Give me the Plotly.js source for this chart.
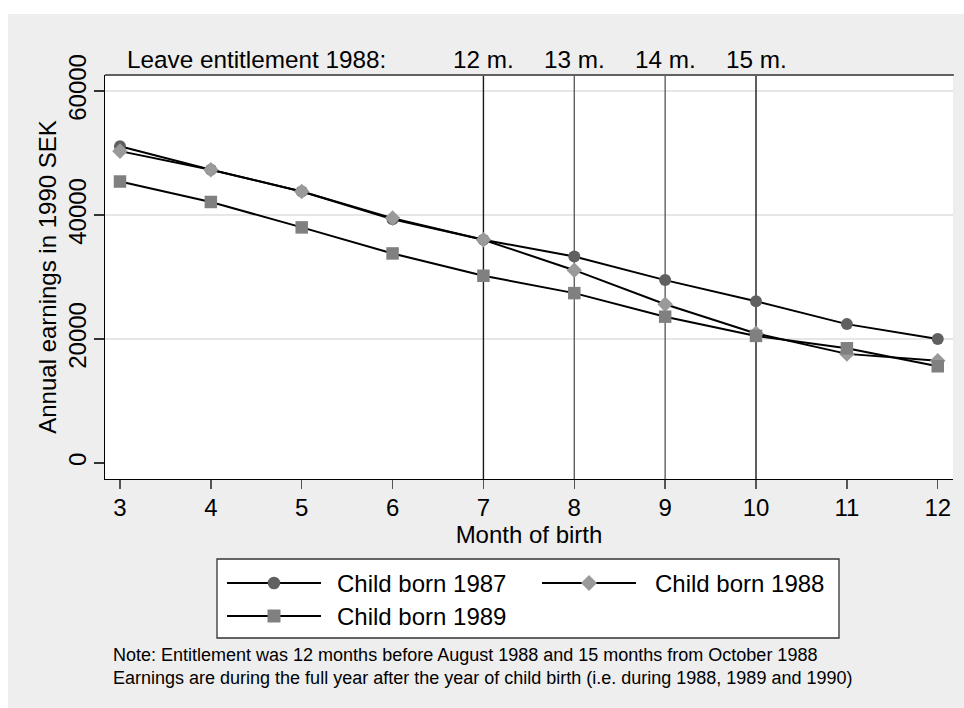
<!DOCTYPE html>
<html>
<head>
<meta charset="utf-8">
<script src="https://cdn.plot.ly/plotly-3.0.1.min.js"></script>
<style>
  html, body { margin: 0; padding: 0; background: #ffffff; }
  #chart { position: absolute; left: 8px; top: 14px; width: 956px; height: 694px; }
</style>
</head>
<body>
<div id="chart"></div>
<script>
// ---- data ----
const months = [3, 4, 5, 6, 7, 8, 9, 10, 11, 12];
const born1987 = [51100, 47300, 43800, 39300, 36000, 33300, 29500, 26100, 22400, 20000];
const born1988 = [50300, 47300, 43800, 39500, 36000, 31100, 25600, 20900, 17600, 16500];
const born1989 = [45400, 42100, 38000, 33800, 30200, 27400, 23600, 20500, 18500, 15600];
const seriesNames = ['Child born 1987', 'Child born 1988', 'Child born 1989'];
const yTickVals = [0, 20000, 40000, 60000];
const yTickLabels = ['0', '20000', '40000', '60000'];
const gridVals = [20000, 40000, 60000];
const cutMonths = [7, 8, 9, 10];
const topLabelPos = [4.5, 7, 8, 9, 10];
const topLabels = ['Leave entitlement 1988:', '12 m.', '13 m.', '14 m.', '15 m.'];
const noteLines = [
  'Note: Entitlement was 12 months before August 1988 and 15 months from October 1988',
  'Earnings are during the full year after the year of child birth (i.e. during 1988, 1989 and 1990)'
];

// ---- styling ----
const FONT = 'Liberation Sans, Arial, Helvetica, sans-serif';
const markerColors = ['#606060', '#9a9a9a', '#808080'];
const markerSymbols = ['circle', 'diamond', 'square'];
const markerSizes = [12, 12, 12.5];
const cutColors = ['#1a1a1a', '#606060', '#606060', '#1a1a1a'];

// plot-area pixel frame (page coords)
const PL = 105, PT = 75, PW = 848, PH = 404;
const px = X => (X - PL) / PW;
const py = Y => (PT + PH - Y) / PH;

const ys = [born1987, born1988, born1989];
const traces = ys.map((y, i) => ({
  type: 'scatter', mode: 'lines+markers',
  x: months, y: y, name: seriesNames[i], showlegend: false,
  line: { color: '#000000', width: 2 },
  marker: { color: markerColors[i], symbol: markerSymbols[i], size: markerSizes[i], line: { width: 0 } },
  hoverinfo: 'x+y+name'
}));

const shapes = [];
gridVals.forEach(v => shapes.push({
  type: 'line', layer: 'below', xref: 'paper', x0: 0, x1: 1, yref: 'y', y0: v, y1: v,
  line: { color: '#e6e6e6', width: 2 }
}));
cutMonths.forEach((m, i) => shapes.push({
  type: 'line', layer: 'below', xref: 'x', x0: m, x1: m, yref: 'paper', y0: 0, y1: 1,
  line: { color: cutColors[i], width: 1.4 }
}));
shapes.push({
  type: 'line', layer: 'above', xref: 'paper', x0: 0, x1: 1.001, yref: 'paper', y0: 1, y1: 1,
  line: { color: '#606060', width: 2.2 }
});

// custom legend
shapes.push({
  type: 'rect', layer: 'above', xref: 'paper', yref: 'paper',
  x0: px(217), x1: px(839), y0: py(559), y1: py(638),
  fillcolor: '#ffffff', line: { color: '#333333', width: 1.3 }
});
const legendPos = [
  { lx0: 227, lx1: 321, row: 583, tx: 335 },
  { lx0: 542, lx1: 636, row: 583, tx: 653 },
  { lx0: 227, lx1: 321, row: 616, tx: 335 }
];
const annotations = [];
legendPos.forEach((p, i) => {
  shapes.push({
    type: 'line', layer: 'above', xref: 'paper', yref: 'paper',
    x0: px(p.lx0), x1: px(p.lx1), y0: py(p.row), y1: py(p.row),
    line: { color: '#000000', width: 2 }
  });
  const cx = px((p.lx0 + p.lx1) / 2), cy = py(p.row);
  const base = { layer: 'above', xref: 'paper', yref: 'paper', xsizemode: 'pixel', ysizemode: 'pixel',
    xanchor: cx, yanchor: cy, fillcolor: markerColors[i], line: { width: 0 } };
  if (markerSymbols[i] === 'circle') {
    shapes.push(Object.assign({ type: 'circle', x0: -6.3, x1: 6.3, y0: -6.3, y1: 6.3 }, base));
  } else if (markerSymbols[i] === 'square') {
    shapes.push(Object.assign({ type: 'rect', x0: -6.5, x1: 6.5, y0: -6.5, y1: 6.5 }, base));
  } else {
    shapes.push(Object.assign({ type: 'path', path: 'M0,-8L8,0L0,8L-8,0Z' }, base));
  }
  annotations.push({
    xref: 'paper', yref: 'paper', x: px(p.tx), y: cy, xanchor: 'left', yanchor: 'middle',
    text: seriesNames[i], showarrow: false, font: { family: FONT, size: 24, color: '#000000' }
  });
});

topLabelPos.forEach((x, i) => annotations.push({
  xref: 'x', yref: 'paper', x: x, y: py(60), xanchor: 'center', yanchor: 'middle',
  text: topLabels[i], showarrow: false, font: { family: FONT, size: 24.3, color: '#000000' }
}));
annotations.push({
  xref: 'paper', yref: 'paper', x: px(111), y: py(666), xanchor: 'left', yanchor: 'middle',
  align: 'left', text: noteLines.join('<br>'), showarrow: false,
  font: { family: FONT, size: 18, color: '#000000' }
});

const layout = {
  width: 956, height: 694,
  margin: { l: 97, r: 11, t: 61, b: 229, pad: 0 },
  paper_bgcolor: '#eeeeee', plot_bgcolor: '#ffffff',
  font: { family: FONT, size: 24, color: '#000000' },
  showlegend: false,
  xaxis: {
    range: [2.835, 12.168], tickvals: months, ticks: 'outside', ticklen: 9, tickwidth: 1.5,
    tickcolor: '#555555', showline: true, linecolor: '#000000', linewidth: 1.4,
    showgrid: false, zeroline: false, tickfont: { size: 24 }, ticklabelstandoff: -2,
    title: { text: 'Month of birth', font: { size: 24 }, standoff: 0 }
  },
  yaxis: {
    range: [-2581, 62581], tickvals: yTickVals, ticktext: yTickLabels, ticks: 'outside', ticklen: 10, tickwidth: 1.5,
    tickcolor: '#333333', showline: true, linecolor: '#000000', linewidth: 1.4,
    showgrid: false, zeroline: false, tickangle: -90, tickfont: { size: 24 }, ticklabelstandoff: -2,
    title: { text: 'Annual earnings in 1990 SEK', font: { size: 24 }, standoff: 0 }
  },
  shapes: shapes,
  annotations: annotations
};

Plotly.newPlot('chart', traces, layout, { displayModeBar: false, staticPlot: true });
</script>
</body>
</html>
